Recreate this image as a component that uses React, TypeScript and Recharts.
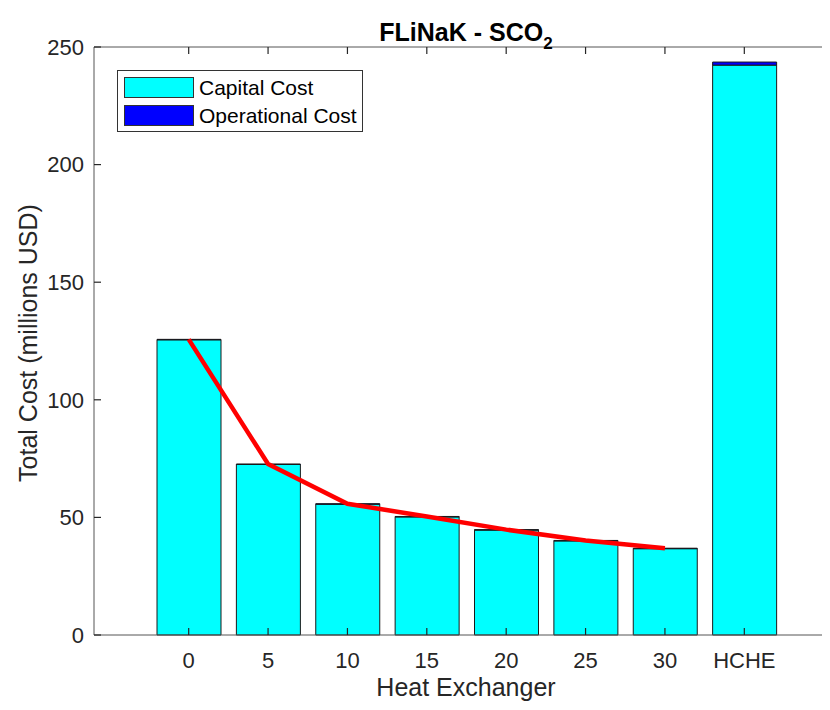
import React from 'react';
import {
  ComposedChart,
  Bar,
  Line,
  XAxis,
  YAxis,
  Legend,
} from 'recharts';

const categories = ['0', '5', '10', '15', '20', '25', '30', 'HCHE'];
const capitalCost = [125.5, 72.5, 55.6, 50.2, 44.6, 40.0, 36.7, 242.3];
const operationalCost = [0.2, 0.2, 0.2, 0.2, 0.2, 0.2, 0.2, 1.3];
const trendCost: (number | null)[] = [125.7, 72.7, 55.8, 50.4, 44.8, 40.2, 36.9, null];
const yTicks = [0, 50, 100, 150, 200, 250];

const legendItems = [
  { label: 'Capital Cost', color: '#00ffff' },
  { label: 'Operational Cost', color: '#0000ff' },
];

const chartData = categories.map((name, i) => ({
  name,
  capital: capitalCost[i],
  operational: operationalCost[i],
  trend: trendCost[i],
}));

const font = '"Liberation Sans", Arial, Helvetica, sans-serif';
const textColor = '#262626';
const axisColor = '#555555';
const tickLen = 7;
const xMargin = 17;
const yMargin = 10;

// ticks point inward, like the MATLAB box axes
const BottomTick = (props: any) => {
  const { x, y, payload } = props;
  const y0 = y - xMargin;
  return (
    <g>
      <line x1={x} x2={x} y1={y0} y2={y0 - tickLen} stroke={textColor} strokeWidth={1.2} />
      <text x={x} y={y} dy="0.71em" textAnchor="middle" fill={textColor} fontSize={22} fontFamily={font}>
        {payload.value}
      </text>
    </g>
  );
};

const TopTick = (props: any) => {
  const { x, y } = props;
  return <line x1={x} x2={x} y1={y} y2={y + tickLen} stroke={textColor} strokeWidth={1.2} />;
};

const LeftTick = (props: any) => {
  const { x, y, payload } = props;
  const x0 = x + yMargin;
  return (
    <g>
      <line x1={x0} x2={x0 + tickLen} y1={y} y2={y} stroke={textColor} strokeWidth={1.2} />
      <text x={x} y={y} dy="0.355em" textAnchor="end" fill={textColor} fontSize={22} fontFamily={font}>
        {payload.value}
      </text>
    </g>
  );
};

const renderLegend = () => (
  <div
    style={{
      border: '1px solid #333',
      background: '#fff',
      width: 238,
      padding: '6px 0 5px 6px',
      fontFamily: font,
      fontSize: 21,
      color: '#000',
    }}
  >
    {legendItems.map((item, i) => (
      <div
        key={item.label}
        style={{
          display: 'flex',
          alignItems: 'center',
          height: 21,
          marginTop: i === 0 ? 0 : 7,
        }}
      >
        <span
          style={{
            display: 'inline-block',
            width: 68,
            height: 19,
            background: item.color,
            border: '1px solid #333',
            marginRight: 5,
          }}
        />
        {item.label}
      </div>
    ))}
  </div>
);

export default function App() {
  return (
    <div
      style={{
        position: 'relative',
        width: 830,
        height: 710,
        margin: -8,
        overflow: 'hidden',
        background: '#fff',
        fontFamily: font,
      }}
    >
      <ComposedChart
        width={850}
        height={710}
        data={chartData}
        margin={{ top: 46, right: 11, bottom: 35, left: 34 }}
      >
        <Bar
          dataKey="capital"
          stackId="cost"
          barSize={64}
          fill="#00ffff"
          stroke="#1a1a1a"
          strokeWidth={1}
          isAnimationActive={false}
        />
        <Bar
          dataKey="operational"
          stackId="cost"
          barSize={64}
          fill="#0000ff"
          stroke="#1a1a1a"
          strokeWidth={1}
          isAnimationActive={false}
        />
        <Line
          dataKey="trend"
          stroke="#ff0000"
          strokeWidth={4.5}
          dot={false}
          activeDot={false}
          connectNulls={false}
          isAnimationActive={false}
        />
        <XAxis
          dataKey="name"
          padding={{ left: 55, right: 55 }}
          height={40}
          tickSize={0}
          tickMargin={xMargin}
          tick={BottomTick}
          tickLine={false}
          axisLine={{ stroke: axisColor }}
        />
        <XAxis
          xAxisId="top"
          dataKey="name"
          orientation="top"
          padding={{ left: 55, right: 55 }}
          height={1}
          tickSize={0}
          tickMargin={0}
          tick={TopTick}
          tickLine={false}
          axisLine={{ stroke: axisColor }}
        />
        <YAxis
          width={60}
          domain={[0, 250]}
          ticks={yTicks}
          tickSize={0}
          tickMargin={yMargin}
          tick={LeftTick}
          tickLine={false}
          axisLine={{ stroke: axisColor }}
        />
        <Legend
          layout="vertical"
          align="center"
          verticalAlign="middle"
          content={renderLegend}
          wrapperStyle={{ left: 117, top: 70, width: 'auto' }}
        />
      </ComposedChart>
      <div
        style={{
          position: 'absolute',
          left: 266,
          top: 18,
          width: 400,
          textAlign: 'center',
          fontSize: 25,
          lineHeight: '28px',
          fontWeight: 'bold',
          color: '#000',
        }}
      >
        FLiNaK - SCO
        <span style={{ fontSize: 17, position: 'relative', top: 8 }}>2</span>
      </div>
      <div
        style={{
          position: 'absolute',
          left: 266,
          top: 673,
          width: 400,
          textAlign: 'center',
          fontSize: 25,
          lineHeight: '28px',
          color: textColor,
        }}
      >
        Heat Exchanger
      </div>
      <div
        style={{
          position: 'absolute',
          left: 28 - 200,
          top: 343 - 14,
          width: 400,
          height: 28,
          textAlign: 'center',
          fontSize: 25,
          lineHeight: '28px',
          color: textColor,
          transform: 'rotate(-90deg)',
          transformOrigin: 'center',
        }}
      >
        Total Cost (millions USD)
      </div>
    </div>
  );
}
